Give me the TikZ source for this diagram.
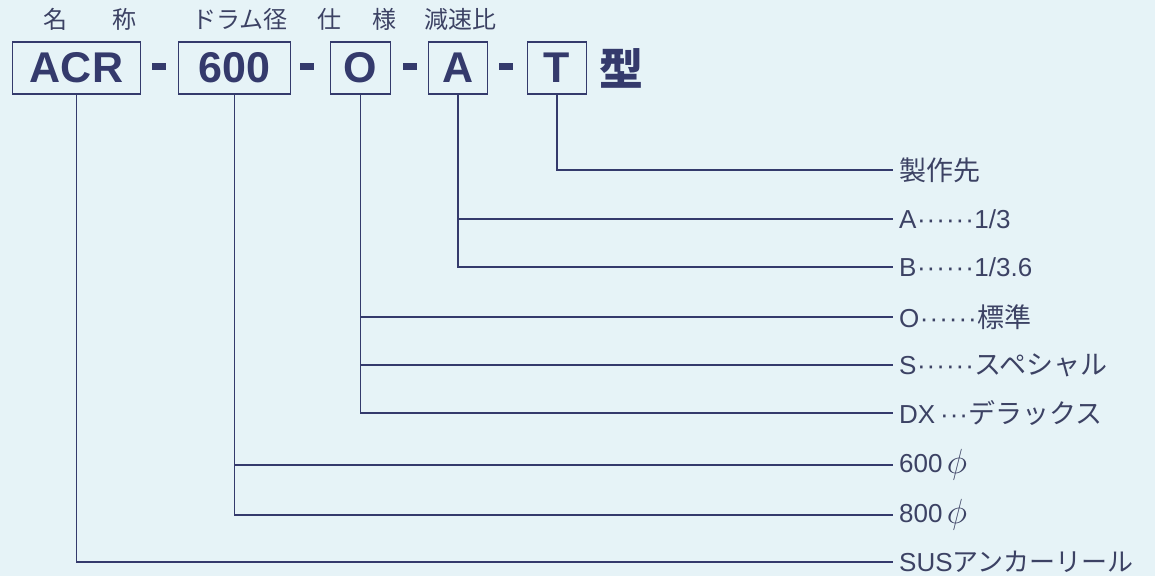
\documentclass[tikz,border=0pt]{standalone}
\usepackage{fontspec}
\usepackage{graphicx}
\setmainfont{Liberation Sans}
\newfontfamily\cjk{Noto Sans CJK JP}
\definecolor{bg}{RGB}{230,243,247}
\definecolor{ink}{RGB}{52,58,108}
\definecolor{lab}{RGB}{60,66,100}
\newcommand\mydots[1]{\foreach \i in {1,...,#1}{\kern0.5pt·\kern0.5pt}}
\newcommand\myphi{\raisebox{-1pt}{\scalebox{1.4}{$\phi$}}}
\begin{document}
\begin{tikzpicture}[x=1pt,y=-1pt,
  codebox/.style={draw=ink,line width=1.8pt,minimum height=52pt,inner sep=0pt,text=ink,font=\fontsize{43}{46}\selectfont\bfseries},
  toplab/.style={text=lab,font=\cjk\fontsize{24}{28}\selectfont,inner sep=0pt},
  rlab/.style={anchor=west,text=lab,font=\fontsize{26}{30}\selectfont,inner sep=0pt},
  conn/.style={draw=ink,line width=1.1pt},
  sep/.style={fill=ink,draw=none,minimum width=14pt,minimum height=7pt,inner sep=0pt}]
\fill[bg] (0,0) rectangle (1155,576);
\useasboundingbox (0,0) rectangle (1155,576);
% code boxes
\node[codebox,minimum width=128pt] (acr) at (76.5,68) {ACR};
\node[codebox,minimum width=112pt] (d600) at (234.5,68) {600};
\node[codebox,minimum width=60pt] (spo) at (360.5,68) {O};
\node[codebox,minimum width=59pt] (red) at (458,68) {A};
\node[codebox,minimum width=59pt] (mak) at (557,68) {T};
\node[sep] (s1) at (159,66.5) {};
\node[sep] (s2) at (307,66.5) {};
\node[sep] (s3) at (409.5,66.5) {};
\node[sep] (s4) at (506,66.5) {};
\node[text=ink,inner sep=0pt,font=\cjk\fontsize{44}{46}\selectfont\bfseries] (kata) at (621,68) {型};
% top labels
\node[toplab] (t1) at (55,19) {名};
\node[toplab] (t2) at (124,19) {称};
\node[toplab] (t3) at (240,19) {ドラム径};
\node[toplab] (t4) at (329,19) {仕};
\node[toplab] (t5) at (384,19) {様};
\node[toplab] (t6) at (460,19) {減速比};
% right labels
\node[rlab] (r1) at (899,170) {\cjk\fontsize{27}{30}\selectfont 製作先};
\node[rlab] (r2) at (899,219) {A\mydots{6}1/3};
\node[rlab] (r3) at (899,267) {B\mydots{6}1/3.6};
\node[rlab] (r4) at (899,317) {O\mydots{6}{\cjk\fontsize{27}{30}\selectfont 標準}};
\node[rlab] (r5) at (899,365) {S\mydots{6}{\cjk\fontsize{27}{30}\selectfont スペシャル}};
\node[rlab] (r6) at (899,413) {DX\,\mydots{3}{\cjk\fontsize{27}{30}\selectfont デラックス}};
\node[rlab] (r7) at (899,465) {600\,\myphi};
\node[rlab] (r8) at (899,515) {800\,\myphi};
\node[rlab] (r9) at (899,562) {SUS{\cjk\fontsize{26}{30}\selectfont アンカーリール}};
% corner coordinates
\coordinate (cT) at (mak.south |- r1.west);
\coordinate (cA1) at (red.south |- r2.west);
\coordinate (cA2) at (red.south |- r3.west);
\coordinate (cO1) at (spo.south |- r4.west);
\coordinate (cO2) at (spo.south |- r5.west);
\coordinate (cO3) at (spo.south |- r6.west);
\coordinate (c61) at (d600.south |- r7.west);
\coordinate (c62) at (d600.south |- r8.west);
\coordinate (cS) at (acr.south |- r9.west);
% connectors
\draw[conn] (mak.south) -- (cT) -- ([xshift=-6pt]r1.west);
\draw[conn] (red.south) -- (cA2) -- ([xshift=-6pt]r3.west);
\draw[conn] (cA1) -- ([xshift=-6pt]r2.west);
\draw[conn] (spo.south) -- (cO3) -- ([xshift=-6pt]r6.west);
\draw[conn] (cO1) -- ([xshift=-6pt]r4.west);
\draw[conn] (cO2) -- ([xshift=-6pt]r5.west);
\draw[conn] (d600.south) -- (c62) -- ([xshift=-6pt]r8.west);
\draw[conn] (c61) -- ([xshift=-6pt]r7.west);
\draw[conn] (acr.south) -- (cS) -- ([xshift=-6pt]r9.west);
\end{tikzpicture}
\end{document}
